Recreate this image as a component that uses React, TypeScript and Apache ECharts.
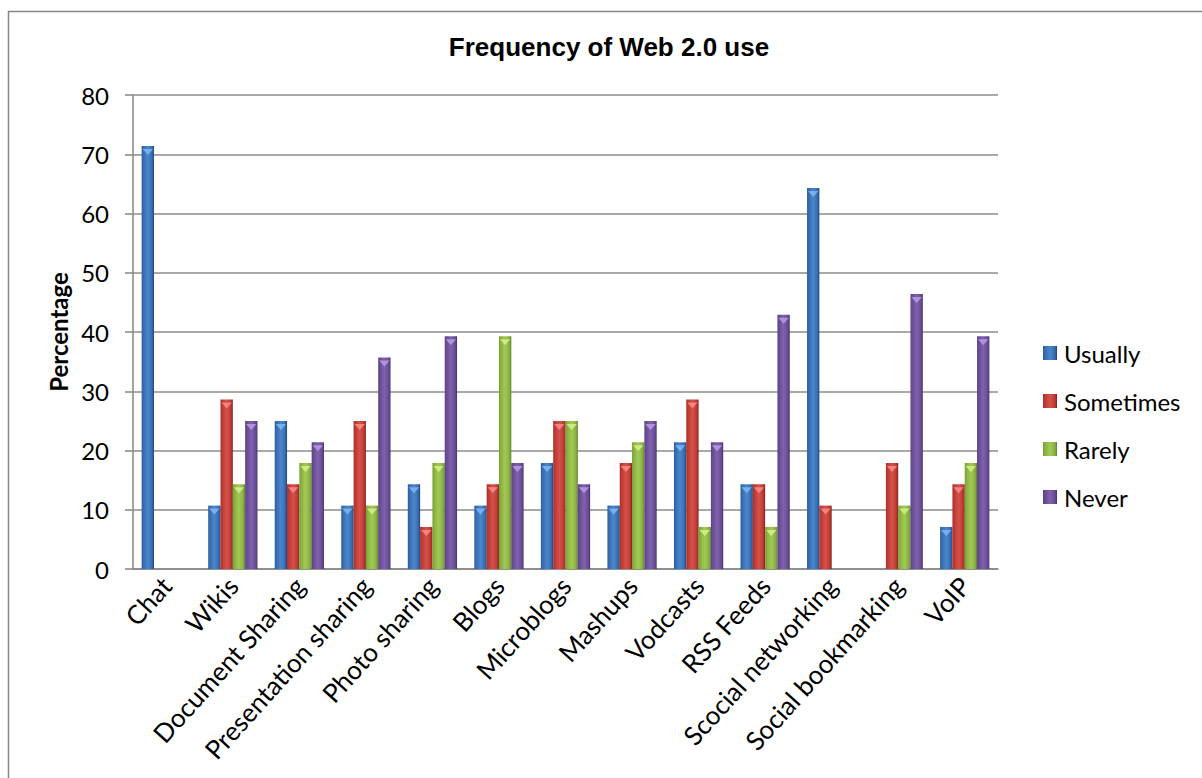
import React, { useEffect, useRef } from "react";
import * as echarts from "echarts";

const categories = [
  "Chat",
  "Wikis",
  "Document Sharing",
  "Presentation sharing",
  "Photo sharing",
  "Blogs",
  "Microblogs",
  "Mashups",
  "Vodcasts",
  "RSS Feeds",
  "Scocial networking",
  "Social bookmarking",
  "VoIP",
];

const usually = [71.4, 10.7, 25, 10.7, 14.3, 10.7, 17.9, 10.7, 21.4, 14.3, 64.3, 0, 7.1];
const sometimes = [0, 28.6, 14.3, 25, 7.1, 14.3, 25, 17.9, 28.6, 14.3, 10.7, 17.9, 14.3];
const rarely = [0, 14.3, 17.9, 10.7, 17.9, 39.3, 25, 21.4, 7.1, 7.1, 0, 10.7, 17.9];
const never = [0, 25, 21.4, 35.7, 39.3, 17.9, 14.3, 25, 21.4, 42.9, 0, 46.4, 39.3];

const seriesNames = ["Usually", "Sometimes", "Rarely", "Never"];
const yTicks = { min: 0, max: 80, interval: 10 };

const palette = [
  { dark: "#2C5D9C", base: "#3A71B6", light: "#4B86CA", edge: "#1A3A66", tip: "#7DB4F0" },
  { dark: "#A8302A", base: "#C23D37", light: "#D4514A", edge: "#6E1A17", tip: "#F48A86" },
  { dark: "#7A9F36", base: "#8DB542", light: "#A2C957", edge: "#56732A", tip: "#D2EE88" },
  { dark: "#5C4286", base: "#6C4F99", light: "#7E62AC", edge: "#3F2B5E", tip: "#B59AE0" },
];

const FONT = "Lato";

function grad(p: any) {
  return new echarts.graphic.LinearGradient(0, 0, 1, 0, [
    { offset: 0, color: p.dark },
    { offset: 0.2, color: p.base },
    { offset: 0.5, color: p.light },
    { offset: 0.8, color: p.base },
    { offset: 0.92, color: p.dark },
    { offset: 1, color: p.edge },
  ]);
}

export default function App() {
  const ref = useRef<HTMLDivElement>(null);
  useEffect(() => {
    if (!ref.current) return;
    const chart = echarts.init(ref.current, null, { renderer: "svg" });
    const allData = [usually, sometimes, rarely, never];
    const barSeries = allData.map((d, i) => ({
      type: "bar",
      name: seriesNames[i],
      data: d,
      barGap: "0%",
      barCategoryGap: "26%",
      itemStyle: { color: grad(palette[i]) },
      z: 2,
    }));
    const tipSeries = allData.map((d, i) => ({
      type: "pictorialBar",
      name: seriesNames[i] + " tip",
      data: d.map((v) => (v === 0 ? "-" : v)),
      barGap: "0%",
      barCategoryGap: "26%",
      symbol: "path://M0,0 L10,0 L5,5 Z",
      symbolPosition: "end",
      symbolSize: ["85%", 6],
      symbolOffset: [0, 3],
      itemStyle: { color: palette[i].tip, opacity: 0.9 },
      z: 3,
      silent: true,
    }));
    chart.setOption({
      animation: false,
      backgroundColor: "#ffffff",
      graphic: [
        {
          type: "rect",
          shape: { x: 8.5, y: 11.5, width: 1300, height: 900 },
          style: { fill: "none", stroke: "#868686", lineWidth: 1.5 },
          silent: true,
        },
        {
          type: "text",
          x: 609,
          y: 47,
          style: {
            text: "Frequency of Web 2.0 use",
            fontFamily: "Liberation Sans",
            fontWeight: "bold",
            fontSize: 26,
            fill: "#000",
            align: "center",
            verticalAlign: "middle",
          },
        },
      ],
      legend: {
        orient: "vertical",
        left: 1038,
        top: 336,
        data: seriesNames,
        icon: "rect",
        itemWidth: 14,
        itemHeight: 14,
        itemGap: 24,
        textStyle: { fontFamily: FONT, fontSize: 24, color: "#000", lineHeight: 24, padding: [0, 0, 0, 2] },
      },
      grid: { left: 133, top: 95, right: 204, bottom: 209, containLabel: false },
      xAxis: {
        type: "category",
        data: categories,
        axisLine: { lineStyle: { color: "#868686", width: 1.5 } },
        axisTick: { show: false },
        axisLabel: {
          interval: 0,
          rotate: 48,
          margin: 12,
          fontFamily: FONT,
          fontSize: 26,
          color: "#000",
        },
      },
      yAxis: {
        type: "value",
        min: yTicks.min,
        max: yTicks.max,
        interval: yTicks.interval,
        name: "Percentage",
        nameLocation: "middle",
        nameGap: 61,
        nameRotate: 90,
        nameTextStyle: { fontFamily: FONT, fontSize: 24, fontWeight: "bold", color: "#000" },
        axisLine: { show: true, lineStyle: { color: "#868686", width: 1.5 } },
        axisTick: { show: true, length: 8, lineStyle: { color: "#868686", width: 1.5 } },
        axisLabel: { margin: 24, fontFamily: FONT, fontSize: 24, color: "#000" },
        splitLine: { lineStyle: { color: "#8C8C8C", width: 1.5 } },
      },
      series: [...barSeries, ...tipSeries],
    } as any);
    return () => chart.dispose();
  }, []);
  return (
    <div
      ref={ref}
      style={{ position: "absolute", left: 0, top: 0, width: 1202, height: 778 }}
    />
  );
}
